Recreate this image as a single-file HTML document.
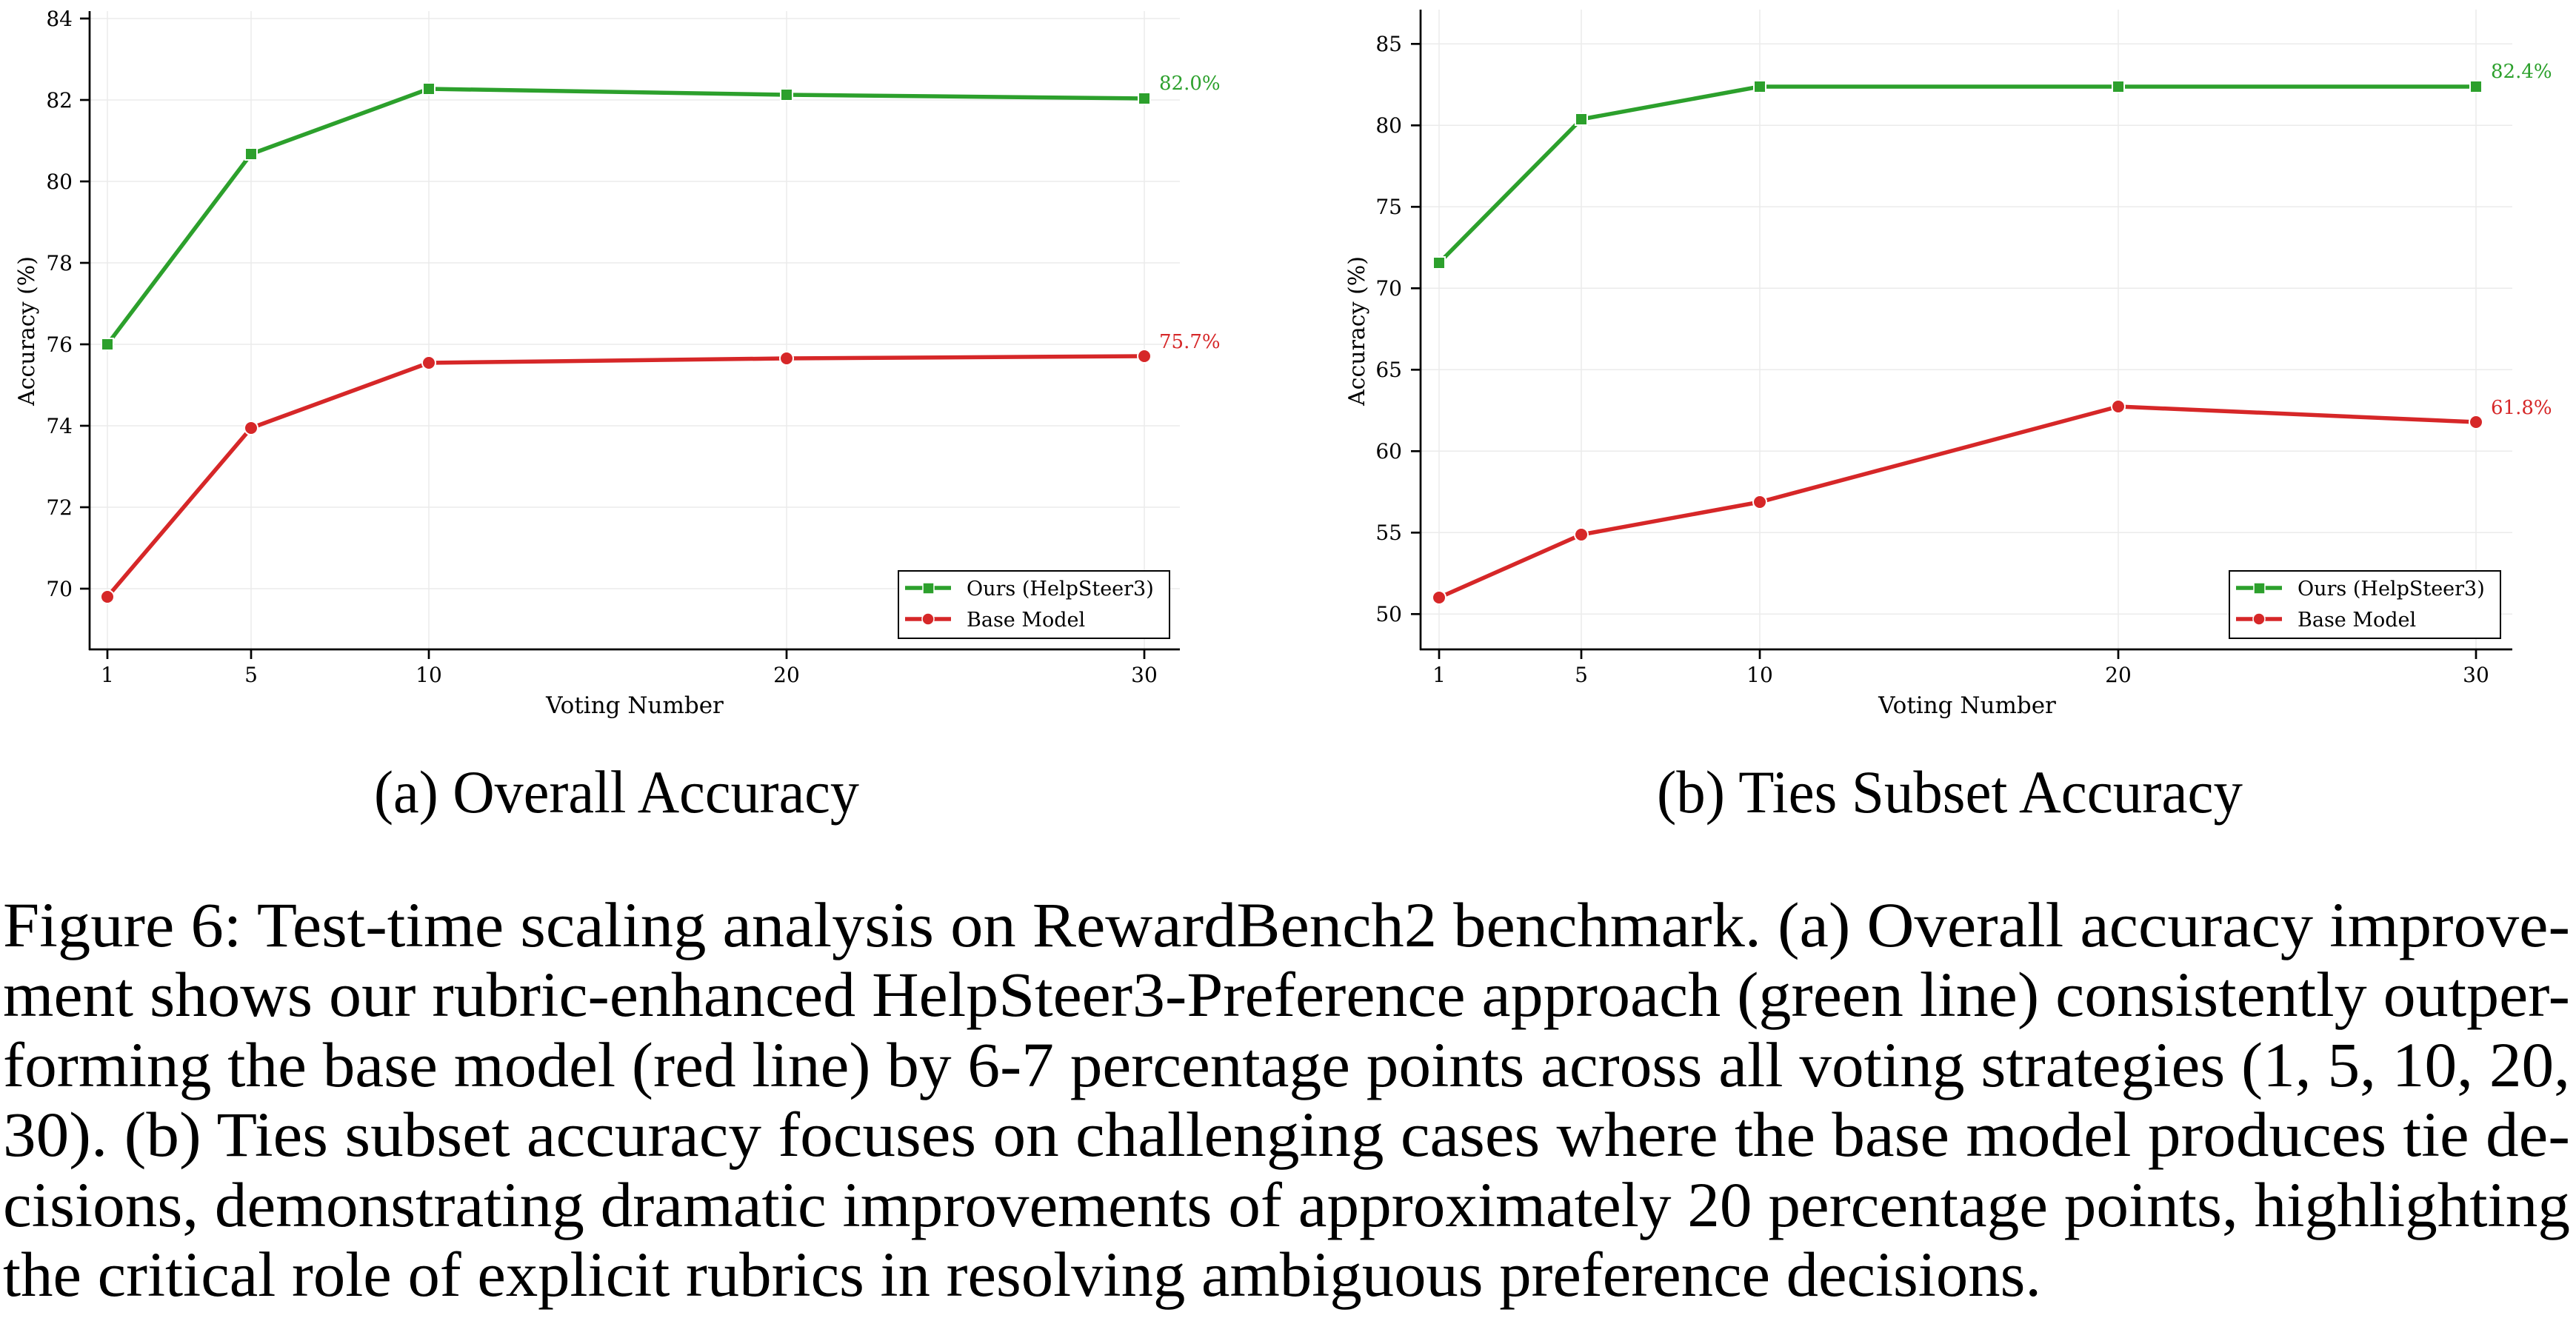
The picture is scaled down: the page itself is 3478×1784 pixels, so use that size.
<!DOCTYPE html>
<html><head><meta charset="utf-8">
<style>
html,body{margin:0;padding:0;background:#fff;}
body{width:3478px;height:1784px;position:relative;overflow:hidden;}
svg{position:absolute;left:0;top:0;}
</style></head><body>
<svg width="3478" height="1784" viewBox="0 0 3478 1784" font-family="DejaVu Serif, serif">
<!-- LEFT CHART -->
<g stroke="#ebebeb" stroke-width="1.5">
<line x1="145" y1="15" x2="145" y2="877"/><line x1="339" y1="15" x2="339" y2="877"/><line x1="579" y1="15" x2="579" y2="877"/><line x1="1062" y1="15" x2="1062" y2="877"/><line x1="1545" y1="15" x2="1545" y2="877"/>
<line x1="121" y1="25" x2="1593" y2="25"/><line x1="121" y1="135" x2="1593" y2="135"/><line x1="121" y1="245" x2="1593" y2="245"/><line x1="121" y1="355" x2="1593" y2="355"/><line x1="121" y1="465" x2="1593" y2="465"/><line x1="121" y1="575" x2="1593" y2="575"/><line x1="121" y1="685" x2="1593" y2="685"/><line x1="121" y1="795" x2="1593" y2="795"/>
</g>
<g stroke="#000" stroke-width="2.7">
<line x1="121" y1="15" x2="121" y2="878"/><line x1="120" y1="877" x2="1593" y2="877"/>
<line x1="108" y1="25" x2="121" y2="25"/><line x1="108" y1="135" x2="121" y2="135"/><line x1="108" y1="245" x2="121" y2="245"/><line x1="108" y1="355" x2="121" y2="355"/><line x1="108" y1="465" x2="121" y2="465"/><line x1="108" y1="575" x2="121" y2="575"/><line x1="108" y1="685" x2="121" y2="685"/><line x1="108" y1="795" x2="121" y2="795"/>
<line x1="145" y1="877" x2="145" y2="890"/><line x1="339" y1="877" x2="339" y2="890"/><line x1="579" y1="877" x2="579" y2="890"/><line x1="1062" y1="877" x2="1062" y2="890"/><line x1="1545" y1="877" x2="1545" y2="890"/>
</g>
<g font-size="28" text-anchor="end" fill="#000">
<text x="98" y="35">84</text><text x="98" y="145">82</text><text x="98" y="255">80</text><text x="98" y="365">78</text><text x="98" y="475">76</text><text x="98" y="585">74</text><text x="98" y="695">72</text><text x="98" y="805">70</text>
</g>
<g font-size="28" text-anchor="middle" fill="#000">
<text x="145" y="921">1</text><text x="339" y="921">5</text><text x="579" y="921">10</text><text x="1062" y="921">20</text><text x="1545" y="921">30</text>
<text x="857" y="963" font-size="31">Voting Number</text>
<text transform="translate(36,447) rotate(-90)" font-size="30" dy="10">Accuracy (%)</text>
</g>
<polyline fill="none" stroke="#2ca02c" stroke-width="5.5" stroke-linejoin="round" points="145,465 339,208 579,120 1062,128 1545,133"/>
<polyline fill="none" stroke="#d62728" stroke-width="5.5" stroke-linejoin="round" points="145,806 339,578 579,490 1062,484 1545,481"/>
<g fill="#2ca02c" stroke="#fff" stroke-width="2">
<rect x="137" y="457" width="16" height="16"/><rect x="331" y="200" width="16" height="16"/><rect x="571" y="112" width="16" height="16"/><rect x="1054" y="120" width="16" height="16"/><rect x="1537" y="125" width="16" height="16"/>
</g>
<g fill="#d62728" stroke="#fff" stroke-width="2">
<circle cx="145" cy="806" r="9"/><circle cx="339" cy="578" r="9"/><circle cx="579" cy="490" r="9"/><circle cx="1062" cy="484" r="9"/><circle cx="1545" cy="481" r="9"/>
</g>
<text x="1565" y="121" font-size="26" fill="#2ca02c">82.0%</text>
<text x="1565" y="470" font-size="26" fill="#d62728">75.7%</text>
<rect x="1213" y="771" width="366" height="91" fill="#fff" stroke="#000" stroke-width="2"/>
<line x1="1222" y1="794" x2="1284" y2="794" stroke="#2ca02c" stroke-width="5.5"/>
<rect x="1246" y="787" width="15" height="15" fill="#2ca02c" stroke="#fff" stroke-width="1.5"/>
<line x1="1222" y1="836" x2="1284" y2="836" stroke="#d62728" stroke-width="5.5"/>
<circle cx="1253" cy="836" r="8" fill="#d62728" stroke="#fff" stroke-width="1.5"/>
<text x="1305" y="804" font-size="27">Ours (HelpSteer3)</text>
<text x="1305" y="846" font-size="27">Base Model</text>

<!-- RIGHT CHART -->
<g stroke="#ebebeb" stroke-width="1.5">
<line x1="1943" y1="13" x2="1943" y2="877"/><line x1="2135" y1="13" x2="2135" y2="877"/><line x1="2376" y1="13" x2="2376" y2="877"/><line x1="2860" y1="13" x2="2860" y2="877"/><line x1="3343" y1="13" x2="3343" y2="877"/>
<line x1="1918" y1="59.3" x2="3392" y2="59.3"/><line x1="1918" y1="169.3" x2="3392" y2="169.3"/><line x1="1918" y1="279.3" x2="3392" y2="279.3"/><line x1="1918" y1="389.3" x2="3392" y2="389.3"/><line x1="1918" y1="499.3" x2="3392" y2="499.3"/><line x1="1918" y1="609.3" x2="3392" y2="609.3"/><line x1="1918" y1="719.3" x2="3392" y2="719.3"/><line x1="1918" y1="829.3" x2="3392" y2="829.3"/>
</g>
<g stroke="#000" stroke-width="2.7">
<line x1="1918" y1="13" x2="1918" y2="878"/><line x1="1917" y1="877" x2="3392" y2="877"/>
<line x1="1905" y1="59.3" x2="1918" y2="59.3"/><line x1="1905" y1="169.3" x2="1918" y2="169.3"/><line x1="1905" y1="279.3" x2="1918" y2="279.3"/><line x1="1905" y1="389.3" x2="1918" y2="389.3"/><line x1="1905" y1="499.3" x2="1918" y2="499.3"/><line x1="1905" y1="609.3" x2="1918" y2="609.3"/><line x1="1905" y1="719.3" x2="1918" y2="719.3"/><line x1="1905" y1="829.3" x2="1918" y2="829.3"/>
<line x1="1943" y1="877" x2="1943" y2="890"/><line x1="2135" y1="877" x2="2135" y2="890"/><line x1="2376" y1="877" x2="2376" y2="890"/><line x1="2860" y1="877" x2="2860" y2="890"/><line x1="3343" y1="877" x2="3343" y2="890"/>
</g>
<g font-size="28" text-anchor="end" fill="#000">
<text x="1893" y="69">85</text><text x="1893" y="179">80</text><text x="1893" y="289">75</text><text x="1893" y="399">70</text><text x="1893" y="509">65</text><text x="1893" y="619">60</text><text x="1893" y="729">55</text><text x="1893" y="839">50</text>
</g>
<g font-size="28" text-anchor="middle" fill="#000">
<text x="1943" y="921">1</text><text x="2135" y="921">5</text><text x="2376" y="921">10</text><text x="2860" y="921">20</text><text x="3343" y="921">30</text>
<text x="2656" y="963" font-size="31">Voting Number</text>
<text transform="translate(1832,447) rotate(-90)" font-size="30" dy="10">Accuracy (%)</text>
</g>
<polyline fill="none" stroke="#2ca02c" stroke-width="5.5" stroke-linejoin="round" points="1943,355 2135,161 2376,117 2860,117 3343,117"/>
<polyline fill="none" stroke="#d62728" stroke-width="5.5" stroke-linejoin="round" points="1943,807 2135,722 2376,678 2860,549 3343,570"/>
<g fill="#2ca02c" stroke="#fff" stroke-width="2">
<rect x="1935" y="347" width="16" height="16"/><rect x="2127" y="153" width="16" height="16"/><rect x="2368" y="109" width="16" height="16"/><rect x="2852" y="109" width="16" height="16"/><rect x="3335" y="109" width="16" height="16"/>
</g>
<g fill="#d62728" stroke="#fff" stroke-width="2">
<circle cx="1943" cy="807" r="9"/><circle cx="2135" cy="722" r="9"/><circle cx="2376" cy="678" r="9"/><circle cx="2860" cy="549" r="9"/><circle cx="3343" cy="570" r="9"/>
</g>
<text x="3363" y="105" font-size="26" fill="#2ca02c">82.4%</text>
<text x="3363" y="559" font-size="26" fill="#d62728">61.8%</text>
<rect x="3010" y="771" width="366" height="91" fill="#fff" stroke="#000" stroke-width="2"/>
<line x1="3019" y1="794" x2="3081" y2="794" stroke="#2ca02c" stroke-width="5.5"/>
<rect x="3043" y="787" width="15" height="15" fill="#2ca02c" stroke="#fff" stroke-width="1.5"/>
<line x1="3019" y1="836" x2="3081" y2="836" stroke="#d62728" stroke-width="5.5"/>
<circle cx="3050" cy="836" r="8" fill="#d62728" stroke="#fff" stroke-width="1.5"/>
<text x="3102" y="804" font-size="27">Ours (HelpSteer3)</text>
<text x="3102" y="846" font-size="27">Base Model</text>

<!-- CAPTIONS -->
<g font-family="Liberation Serif, Times New Roman, Times, serif" fill="#000" lengthAdjust="spacingAndGlyphs">
<text x="505" y="1097" font-size="82" textLength="655" lengthAdjust="spacingAndGlyphs">(a) Overall Accuracy</text>
<text x="2237" y="1097" font-size="82" textLength="791" lengthAdjust="spacingAndGlyphs">(b) Ties Subset Accuracy</text>
<g font-size="86">
<text x="4" y="1278" textLength="3466" lengthAdjust="spacingAndGlyphs">Figure 6:  Test-time scaling analysis on RewardBench2 benchmark.  (a) Overall accuracy improve-</text>
<text x="4" y="1372" textLength="3466" lengthAdjust="spacingAndGlyphs">ment shows our rubric-enhanced HelpSteer3-Preference approach (green line) consistently outper-</text>
<text x="4" y="1467" textLength="3466" lengthAdjust="spacingAndGlyphs">forming the base model (red line) by 6-7 percentage points across all voting strategies (1, 5, 10, 20,</text>
<text x="4" y="1561" textLength="3466" lengthAdjust="spacingAndGlyphs">30).  (b) Ties subset accuracy focuses on challenging cases where the base model produces tie de-</text>
<text x="4" y="1656" textLength="3466" lengthAdjust="spacingAndGlyphs">cisions, demonstrating dramatic improvements of approximately 20 percentage points, highlighting</text>
<text x="4" y="1750" textLength="2752" lengthAdjust="spacingAndGlyphs">the critical role of explicit rubrics in resolving ambiguous preference decisions.</text>
</g>
</g>
</svg>
</body></html>
